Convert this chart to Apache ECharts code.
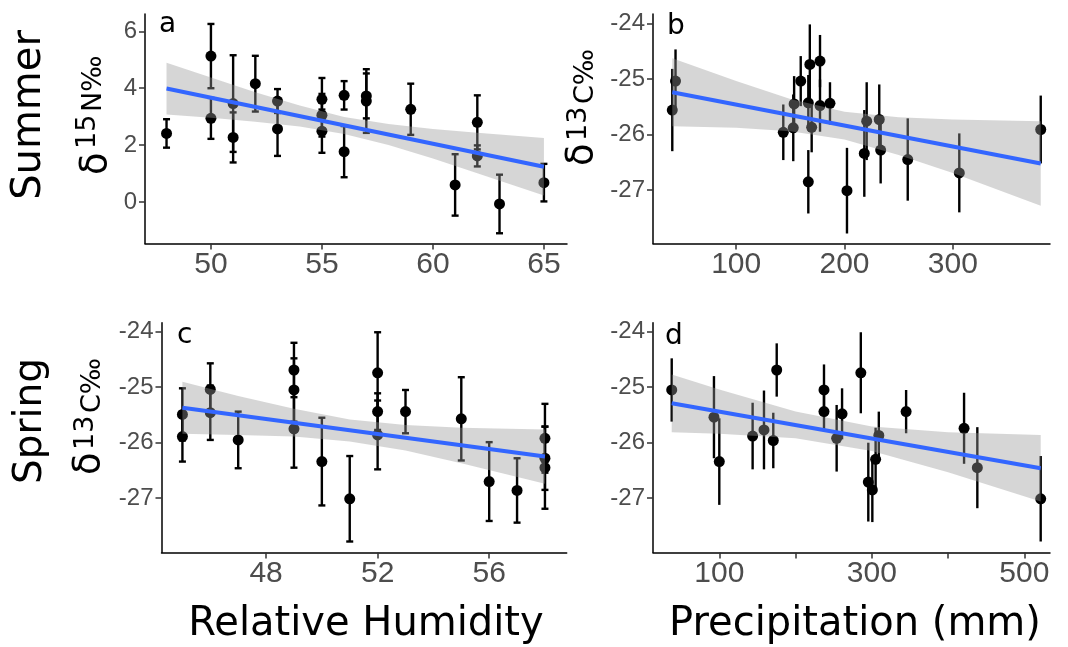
<!DOCTYPE html>
<html>
<head>
<meta charset="utf-8">
<script src="https://cdn.jsdelivr.net/npm/echarts@6.0.0/dist/echarts.min.js"></script>
<style>
  html, body { margin: 0; padding: 0; background: #fff; }
  #main { width: 1068px; height: 647px; }
</style>
</head>
<body>
<div id="main"></div>
<script>
// ---- panel a : summer, d15N vs relative humidity
var summerRH      = [48, 50, 50, 51, 51, 52, 53, 53, 55, 55, 55, 56, 56, 57, 57, 59, 61, 62, 62, 63, 65];
var summerN15     = [2.41, 5.13, 2.94, 3.46, 2.27, 4.16, 3.55, 2.57, 3.61, 3.05, 2.49, 3.75, 1.77, 3.73, 3.55, 3.26, 0.6, 2.8, 1.62, -0.07, 0.68];
var summerN15Err  = [0.5, 1.13, 0.72, 1.7, 0.88, 0.98, 0.42, 0.95, 0.75, 0.75, 0.76, 0.5, 0.9, 0.79, 1.12, 0.9, 1.08, 0.95, 0.37, 1.03, 0.66];
var fitA          = [[48, 3.99], [65, 1.24]];
var bandAX        = [48, 50, 52, 54, 56, 58, 60, 62, 65];
var bandALo       = [3.08, 2.96, 2.82, 2.65, 2.39, 2.0, 1.53, 1.01, 0.23];
var bandAHi       = [4.90, 4.38, 3.86, 3.39, 2.99, 2.74, 2.57, 2.43, 2.25];

// ---- panel b : summer, d13C vs precipitation
var summerPrec    = [41, 44, 143.5, 152.7, 153.5, 159.6, 166.6, 166.6, 168, 169.7, 177.4, 177.4, 186.6, 202.3, 218.3, 220.5, 232.1, 233.4, 258.4, 306, 381.2];
var summerC13     = [-25.56, -25.04, -25.96, -25.88, -25.45, -25.04, -25.43, -26.85, -24.74, -25.87, -24.68, -25.48, -25.44, -27.01, -26.34, -25.76, -25.73, -26.28, -26.45, -26.69, -25.91];
var summerC13Err  = [0.74, 0.57, 0.5, 0.6, 0.5, 0.45, 0.5, 0.57, 0.72, 0.45, 0.47, 0.47, 0.38, 0.77, 0.78, 0.7, 0.63, 0.6, 0.74, 0.71, 0.61];
var fitB          = [[41, -25.24], [381.2, -26.52]];
var bandBX        = [41, 100, 150, 200, 250, 300, 381.2];
var bandBLo       = [-25.85, -25.88, -25.94, -26.09, -26.37, -26.69, -27.28];
var bandBHi       = [-24.63, -25.04, -25.36, -25.59, -25.69, -25.73, -25.76];

// ---- panel c : spring, d13C vs relative humidity
var springRH      = [45, 45, 46, 46, 47, 49, 49, 49, 50, 51, 52, 52, 52, 53, 55, 56, 57, 58, 58, 58];
var springC13RH   = [-25.49, -25.89, -25.04, -25.46, -25.95, -24.69, -25.05, -25.75, -26.34, -27.01, -24.74, -25.44, -25.86, -25.44, -25.57, -26.7, -26.86, -25.92, -26.28, -26.45];
var springC13RHErr= [0.47, 0.45, 0.47, 0.49, 0.51, 0.49, 0.57, 0.7, 0.79, 0.77, 0.73, 0.33, 0.62, 0.39, 0.75, 0.71, 0.58, 0.62, 0.57, 0.74];
var fitC          = [[45, -25.37], [58, -26.25]];
var bandCX        = [45, 47, 49, 51, 53, 55, 58];
var bandCLo       = [-25.84, -25.86, -25.89, -25.98, -26.14, -26.37, -26.74];
var bandCHi       = [-24.90, -25.16, -25.39, -25.58, -25.68, -25.73, -25.76];

// ---- panel d : spring, d13C vs precipitation
var springPrec    = [37.6, 93, 100, 143.7, 158.6, 170.8, 175.3, 237.3, 237.3, 253.9, 261, 285.6, 295.4, 300.7, 305, 309.2, 345, 421, 438.4, 521.5];
var springC13P    = [-25.05, -25.54, -26.34, -25.88, -25.77, -25.96, -24.69, -25.05, -25.44, -25.92, -25.48, -24.74, -26.71, -26.85, -26.3, -25.87, -25.44, -25.74, -26.45, -27.01];
var springC13PErr = [0.57, 0.74, 0.78, 0.6, 0.71, 0.5, 0.48, 0.46, 0.33, 0.6, 0.46, 0.73, 0.71, 0.58, 0.57, 0.43, 0.39, 0.64, 0.73, 0.77];
var fitD          = [[37.6, -25.29], [521.5, -26.46]];
var bandDX        = [37.6, 100, 200, 300, 400, 521.5];
var bandDLo       = [-25.81, -25.84, -25.92, -26.15, -26.53, -27.06];
var bandDHi       = [-24.77, -25.04, -25.44, -25.71, -25.81, -25.86];

// ---- tick values
var aXTicks = [50, 55, 60, 65];
var aYTicks = [0, 2, 4, 6];
var bXTicks = [100, 200, 300];
var c13Ticks = [-27, -26, -25, -24];
var cXTicks = [48, 52, 56];
var dXTicks = [100, 200, 300, 400, 500];
var dXLabels = [100, 300, 500];

var myChart = echarts.init(document.getElementById('main'));

function pointRows(xs, ys) {
    return xs.map(function (x, i) { return [x, ys[i]]; });
}
function errRows(xs, ys, es) {
    return xs.map(function (x, i) { return [x, ys[i] - es[i], ys[i] + es[i]]; });
}
function bandRows(bx, lo, hi) {
    return bx.map(function (x, i) { return [x, lo[i], hi[i]]; });
}

// error bars, with or without the little caps
function errorSeries(idx, rows, caps) {
    return {
        type: 'custom',
        xAxisIndex: idx, yAxisIndex: idx,
        z: 1,
        data: rows,
        encode: {x: 0, y: [1, 2]},
        renderItem: function (params, api) {
            var x = api.value(0);
            var top = api.coord([x, api.value(2)]);
            var bot = api.coord([x, api.value(1)]);
            var st = {stroke: '#000', lineWidth: 2.4};
            var kids = [{type: 'line', shape: {x1: top[0], y1: top[1], x2: bot[0], y2: bot[1]}, style: st}];
            if (caps) {
                kids.push({type: 'line', shape: {x1: top[0] - 3.5, y1: top[1], x2: top[0] + 3.5, y2: top[1]}, style: st});
                kids.push({type: 'line', shape: {x1: bot[0] - 3.5, y1: bot[1], x2: bot[0] + 3.5, y2: bot[1]}, style: st});
            }
            return {type: 'group', children: kids};
        }
    };
}

function pointSeries(idx, rows) {
    return {
        type: 'scatter',
        xAxisIndex: idx, yAxisIndex: idx,
        z: 2,
        symbolSize: 11,
        itemStyle: {color: '#000', opacity: 1},
        data: rows
    };
}

// confidence ribbon drawn over points (like ggplot)
function bandSeries(idx, rows) {
    return {
        type: 'custom',
        xAxisIndex: idx, yAxisIndex: idx,
        z: 3,
        data: rows,
        encode: {x: 0, y: [1, 2]},
        renderItem: function (params, api) {
            if (params.dataIndex !== 0) return null;
            var pts = [];
            var i;
            for (i = 0; i < rows.length; i++) pts.push(api.coord([rows[i][0], rows[i][1]]));
            for (i = rows.length - 1; i >= 0; i--) pts.push(api.coord([rows[i][0], rows[i][2]]));
            return {type: 'polygon', shape: {points: pts}, style: {fill: 'rgba(153,153,153,0.4)', stroke: null}};
        }
    };
}

function fitSeries(idx, rows) {
    return {
        type: 'line',
        xAxisIndex: idx, yAxisIndex: idx,
        z: 4,
        showSymbol: false,
        lineStyle: {color: '#3366FF', width: 4},
        data: rows
    };
}

function xAxisCfg(idx, min, max, ticks, labels) {
    return {
        type: 'value', gridIndex: idx, min: min, max: max,
        axisLine: {show: true, onZero: false, lineStyle: {color: '#000', width: 1.5}},
        axisTick: {show: true, length: 6, customValues: ticks, lineStyle: {color: '#333', width: 1.5}},
        axisLabel: {customValues: labels || ticks, color: '#4d4d4d', fontSize: 30, fontFamily: 'Liberation Sans', margin: 6},
        splitLine: {show: false}
    };
}
function yAxisCfg(idx, min, max, ticks) {
    return {
        type: 'value', gridIndex: idx, min: min, max: max,
        axisLine: {show: true, onZero: false, lineStyle: {color: '#000', width: 1.5}},
        axisTick: {show: true, length: 6, customValues: ticks, lineStyle: {color: '#333', width: 1.5}},
        axisLabel: {customValues: ticks, color: '#4d4d4d', fontSize: 24, fontFamily: 'Liberation Sans', margin: 8},
        splitLine: {show: false}
    };
}

// rotated text helper
function vText(x, y, str, size, align) {
    return {
        type: 'text', x: x, y: y, rotation: Math.PI / 2,
        style: {text: str, font: size + 'px "DejaVu Sans"', fill: '#000',
            align: align || 'left', verticalAlign: 'middle',
            textAlign: align || 'left', textVerticalAlign: 'middle'}
    };
}
function hText(x, y, str, size, align) {
    return {
        type: 'text', x: x, y: y,
        style: {text: str, font: size + 'px "DejaVu Sans"', fill: '#000',
            align: align || 'left', verticalAlign: 'middle',
            textAlign: align || 'left', textVerticalAlign: 'middle'}
    };
}

var option = {
    animation: false,
    backgroundColor: '#fff',
    grid: [
        {left: 145, top: 14, width: 422, height: 229.5},
        {left: 653, top: 14, width: 397, height: 229.5},
        {left: 161.5, top: 322.7, width: 405.2, height: 229.8},
        {left: 653, top: 322.7, width: 397, height: 229.8}
    ],
    xAxis: [
        xAxisCfg(0, 47.03, 66.04, aXTicks),
        xAxisCfg(1, 23.2, 389.75, bXTicks),
        xAxisCfg(2, 44.25, 58.78, cXTicks),
        xAxisCfg(3, 13.05, 533.7, dXTicks, dXLabels)
    ],
    yAxis: [
        yAxisCfg(0, -1.46, 6.61, aYTicks),
        yAxisCfg(1, -27.96, -23.833, c13Ticks),
        yAxisCfg(2, -27.978, -23.838, c13Ticks),
        yAxisCfg(3, -27.978, -23.838, c13Ticks)
    ],
    series: [
        errorSeries(0, errRows(summerRH, summerN15, summerN15Err), true),
        pointSeries(0, pointRows(summerRH, summerN15)),
        bandSeries(0, bandRows(bandAX, bandALo, bandAHi)),
        fitSeries(0, fitA),

        errorSeries(1, errRows(summerPrec, summerC13, summerC13Err), false),
        pointSeries(1, pointRows(summerPrec, summerC13)),
        bandSeries(1, bandRows(bandBX, bandBLo, bandBHi)),
        fitSeries(1, fitB),

        errorSeries(2, errRows(springRH, springC13RH, springC13RHErr), true),
        pointSeries(2, pointRows(springRH, springC13RH)),
        bandSeries(2, bandRows(bandCX, bandCLo, bandCHi)),
        fitSeries(2, fitC),

        errorSeries(3, errRows(springPrec, springC13P, springC13PErr), false),
        pointSeries(3, pointRows(springPrec, springC13P)),
        bandSeries(3, bandRows(bandDX, bandDLo, bandDHi)),
        fitSeries(3, fitD)
    ],
    graphic: [
        // row labels
        vText(30, 115, 'Summer', 40, 'center'),
        vText(31, 421, 'Spring', 39, 'center'),
        // y titles
        vText(96, 175, 'δ', 37), vText(88, 149, '15', 27), vText(94, 112, 'N‰', 27),
        vText(582, 166, 'δ', 37), vText(579, 141, '13', 27), vText(586, 104, 'C‰', 27),
        vText(89, 475, 'δ', 37), vText(86, 450, '13', 27), vText(93, 413, 'C‰', 27),
        // panel letters
        hText(159, 25, 'a', 28), hText(667, 27, 'b', 28),
        hText(177, 336, 'c', 28), hText(665, 337, 'd', 28),
        // x titles
        hText(366, 625, 'Relative Humidity', 40, 'center'),
        hText(855, 625, 'Precipitation (mm)', 40, 'center')
    ]
};

myChart.setOption(option);
window.addEventListener('resize', function () { myChart.resize(); });
</script>
</body>
</html>
